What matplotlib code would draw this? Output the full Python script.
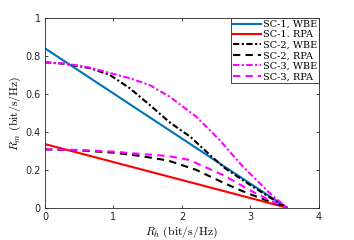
import matplotlib
matplotlib.use("Agg")
import matplotlib.pyplot as plt
import numpy as np

plt.rcParams['mathtext.fontset'] = 'cm'

labels = ["SC-1, WBE", "SC-1. RPA", "SC-2, WBE", "SC-2, RPA", "SC-3, WBE", "SC-3, RPA"]

sc1_wbe_x = [0, 3.53]
sc1_wbe_y = [0.84, 0.0]
sc1_rpa_x = [0, 3.53]
sc1_rpa_y = [0.335, 0.0]

sc2_wbe_x = [0, 0.3, 0.66, 0.95, 1.24, 1.53, 1.82, 2.12, 2.41, 2.63, 3.0, 3.3, 3.53]
sc2_wbe_y = [0.766, 0.758, 0.735, 0.699, 0.629, 0.541, 0.450, 0.374, 0.277, 0.207, 0.118, 0.05, 0.0]

sc2_rpa_x = [0, 0.5, 1.0, 1.4, 1.8, 2.2, 2.6, 2.85, 3.0, 3.3, 3.53]
sc2_rpa_y = [0.307, 0.302, 0.29, 0.272, 0.248, 0.200, 0.132, 0.092, 0.07, 0.03, 0.0]

sc3_wbe_x = [0, 0.3, 0.66, 0.95, 1.24, 1.53, 1.82, 2.21, 2.55, 2.87, 3.09, 3.3, 3.53]
sc3_wbe_y = [0.766, 0.76, 0.738, 0.71, 0.682, 0.646, 0.585, 0.479, 0.356, 0.224, 0.145, 0.07, 0.0]

sc3_rpa_x = [0, 0.5, 1.0, 1.4, 1.8, 2.1, 2.6, 3.0, 3.3, 3.53]
sc3_rpa_y = [0.307, 0.304, 0.295, 0.283, 0.272, 0.252, 0.172, 0.09, 0.035, 0.0]

fig = plt.figure(figsize=(3.54, 2.40), dpi=100)
ax = fig.add_axes([0.127, 0.135, 0.774, 0.79])

blue = '#0072BD'
lw = 1.5
dashdot = (0, (3.0, 1.2, 1.0, 1.2))
dashed = (0, (3.5, 2.5))
ax.plot(sc1_wbe_x, sc1_wbe_y, color=blue, lw=lw, label=labels[0])
ax.plot(sc1_rpa_x, sc1_rpa_y, color='#FF0000', lw=lw, label=labels[1])
ax.plot(sc2_wbe_x, sc2_wbe_y, color='black', lw=lw, linestyle=dashdot, label=labels[2])
ax.plot(sc2_rpa_x, sc2_rpa_y, color='black', lw=lw, linestyle=dashed, label=labels[3])
ax.plot(sc3_wbe_x, sc3_wbe_y, color='#FF00FF', lw=lw, linestyle=dashdot, label=labels[4])
ax.plot(sc3_rpa_x, sc3_rpa_y, color='#FF00FF', lw=lw, linestyle=dashed, label=labels[5])

ax.set_xlim(0, 4)
ax.set_ylim(0, 1)
ax.set_xticks([0, 1, 2, 3, 4])
ax.set_yticks([0, 0.2, 0.4, 0.6, 0.8, 1])
ax.set_yticklabels(['0', '0.2', '0.4', '0.6', '0.8', '1'])
ax.tick_params(direction='in', top=True, right=True, labelsize=7, length=2.5,
               width=0.6, colors='#262626', pad=3)
for s in ax.spines.values():
    s.set_color('#262626')
    s.set_linewidth(0.6)

ax.set_xlabel(r'$R_h\ \mathrm{(bit/s/Hz)}$', fontsize=8.5, labelpad=2)
ax.set_ylabel(r'$R_m\ \mathrm{(bit/s/Hz)}$', fontsize=8.5, labelpad=2)

leg = ax.legend(loc='upper right', borderaxespad=0, fancybox=False, framealpha=1,
                edgecolor='#262626', handlelength=2.9, handletextpad=0.15,
                labelspacing=0.15, borderpad=0.2, prop={'family': 'serif', 'size': 7},
                )
leg.get_frame().set_linewidth(0.6)
for t in leg.get_texts():
    t.set_fontfamily('DejaVu Serif')

fig.savefig('out.png', dpi=100)
